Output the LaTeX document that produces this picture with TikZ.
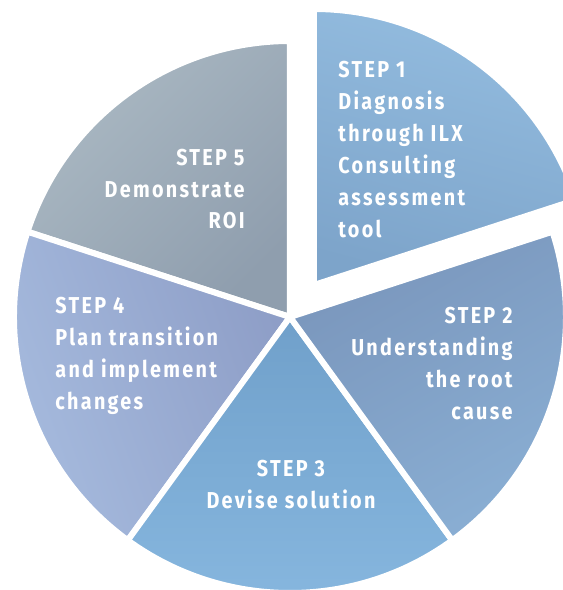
\documentclass[tikz,border=0pt]{standalone}
\usepackage{fontspec}
\newfontfamily\stepfont{Fira Sans}[FakeStretch=0.86, LetterSpace=10]

\definecolor{oneTop}{HTML}{93BCDF}
\definecolor{oneBot}{HTML}{7DA4CA}
\definecolor{twoTop}{HTML}{7A96BC}
\definecolor{twoBot}{HTML}{8AAFD4}
\definecolor{threeTop}{HTML}{70A0CA}
\definecolor{threeBot}{HTML}{87B7DF}
\definecolor{fourLeft}{HTML}{A7BCDF}
\definecolor{fourRight}{HTML}{8E9EC7}
\definecolor{fiveLeft}{HTML}{ABB9C3}
\definecolor{fiveRight}{HTML}{8F9EAE}

\tikzset{%
  % slices of the wheel
         slice/.style = {draw=white, line width=3, line join=miter},
  % step texts
         steptext/.style = {text=white, inner sep=0pt, font=\stepfont\bfseries\fontsize{11.5}{16}\selectfont},
}

\begin{document}
\begin{tikzpicture}[x=0.5pt, y=0.5pt]
    \useasboundingbox (-290,-273) rectangle (273,317);

    % Draw slices
    \shade[slice, top color=fiveLeft, bottom color=fiveRight, shading angle=45]
        (0,0) -- (90:276) arc[start angle=90, end angle=162, radius=276] -- cycle;
    \shade[slice, top color=fourLeft, bottom color=fourRight, shading angle=110]
        (0,0) -- (162:276) arc[start angle=162, end angle=234, radius=276] -- cycle;
    \shade[slice, top color=threeTop, bottom color=threeBot]
        (0,0) -- (234:276) arc[start angle=234, end angle=306, radius=276] -- cycle;
    \shade[slice, top color=twoTop, bottom color=twoBot, shading angle=30]
        (0,0) -- (306:276) arc[start angle=306, end angle=378, radius=276] -- cycle;
    % first slice pulled out
    \shade[slice, top color=oneTop, bottom color=oneBot, shading angle=-15, shift={(24,32)}]
        (0,0) -- (18:276) arc[start angle=18, end angle=90, radius=276] -- cycle;

    % Draw texts (base = last line)
    \node (one)   [steptext, anchor=base west, align=left]   at (48,80)    {STEP 1\\Diagnosis\\through ILX\\Consulting\\assessment\\tool};
    \node (two)   [steptext, anchor=base east, align=right]  at (223,-102) {STEP 2\\Understanding\\the root\\cause};
    \node (three) [steptext, anchor=base, align=center]      at (1,-191)   {STEP 3\\Devise solution};
    \node (four)  [steptext, anchor=base west, align=left]   at (-235,-92) {STEP 4\\Plan transition\\and implement\\changes};
    \node (five)  [steptext, anchor=base east, align=right]  at (-45,88)   {STEP 5\\Demonstrate\\ROI};
\end{tikzpicture}
\end{document}
